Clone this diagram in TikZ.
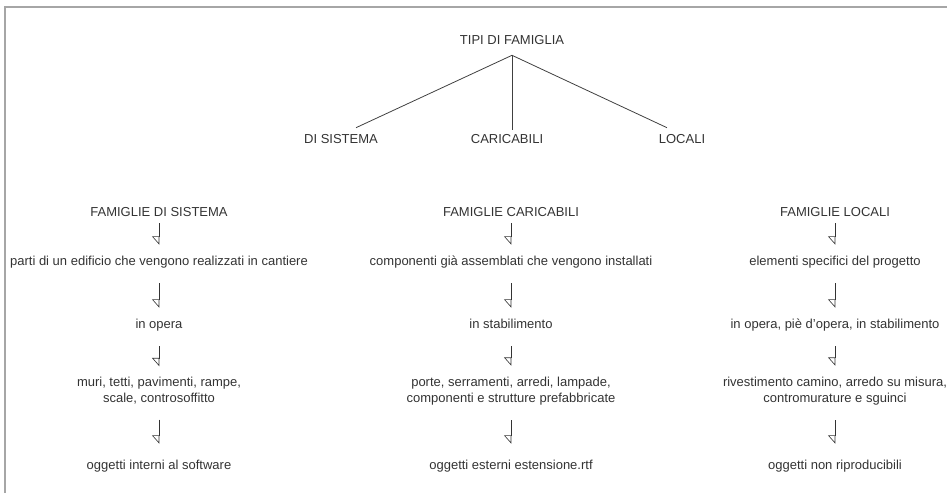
\documentclass[tikz,border=0pt]{standalone}
\usepackage{fontspec}
\setmainfont{Liberation Sans}
\usetikzlibrary{arrows.meta}

\begin{document}
\begin{tikzpicture}[
        x=1pt, y=-1pt, % координаты в пикселях, ось y вниз
        font=\fontsize{13}{16}\selectfont,
        box/.style={inner sep=0pt, text=black!80, text height=9.5pt, text depth=2.7pt}, % одна строка
        box2/.style={inner sep=0pt, text=black!80, align=center}, % две строки
        ast/.style={draw=black!75, line width=0.8pt}, % ветви дерева
        pfeil/.style={draw=black!80, line width=0.6pt,
                -{Triangle[open, harpoon, swap, length=8pt, width=14pt]},
                shorten <=15pt, shorten >=11pt},
        rahmen/.style={draw=black!35, line width=1.5pt},
    ]
    \useasboundingbox (0,0) rectangle (947,493);

    % рамка
    \draw[rahmen] (5,493) |- (947,7);

    % корень и первый уровень
    \node[box] (tipi) at (512,41) {TIPI DI FAMIGLIA};
    \node[box] (sis) at (341,140) {DI SISTEMA};
    \node[box] (car) at (507,140) {CARICABILI};
    \node[box] (loc) at (682,140) {LOCALI};

    \coordinate (apex) at ([yshift=-8pt]tipi.south);
    \draw[ast] (apex) -- ([xshift=15pt, yshift=6pt]sis.north);
    \draw[ast] (apex) -- ([xshift=5pt, yshift=4pt]car.north);
    \draw[ast] (apex) -- ([xshift=-15pt, yshift=6pt]loc.north);

    % famiglie di sistema
    \node[box] (fs1) at (159,213) {FAMIGLIE DI SISTEMA};
    \node[box] (fs2) at (159,262) {parti di un edificio che vengono realizzati in cantiere};
    \node[box] (fs3) at (159,325) {in opera};
    \node[box2] (fs4) at (159,391) {muri, tetti, pavimenti, rampe,\\ scale, controsoffitto};
    \node[box] (fs5) at (159,466) {oggetti interni al software};

    % famiglie caricabili
    \node[box] (fc1) at (511,213) {FAMIGLIE CARICABILI};
    \node[box] (fc2) at (511,262) {componenti già assemblati che vengono installati};
    \node[box] (fc3) at (511,325) {in stabilimento};
    \node[box2] (fc4) at (511,391) {porte, serramenti, arredi, lampade,\\ componenti e strutture prefabbricate};
    \node[box] (fc5) at (511,466) {oggetti esterni estensione.rtf};

    % famiglie locali
    \node[box] (fl1) at (835,213) {FAMIGLIE LOCALI};
    \node[box] (fl2) at (835,262) {elementi specifici del progetto};
    \node[box] (fl3) at (835,325) {in opera, piè d'opera, in stabilimento};
    \node[box2] (fl4) at (835,391) {rivestimento camino, arredo su misura,\\ contromurature e sguinci};
    \node[box] (fl5) at (835,466) {oggetti non riproducibili};

    % стрелки
    \draw[pfeil, shorten <=4pt] (fs1) -- (fs2);
    \draw[pfeil] (fs2) -- (fs3);
    \draw[pfeil] (fs3) -- (fs4);
    \draw[pfeil, shorten >=16pt] (fs4) -- (fs5);

    \draw[pfeil, shorten <=4pt] (fc1) -- (fc2);
    \draw[pfeil] (fc2) -- (fc3);
    \draw[pfeil] (fc3) -- (fc4);
    \draw[pfeil, shorten >=16pt] (fc4) -- (fc5);

    \draw[pfeil, shorten <=4pt] (fl1) -- (fl2);
    \draw[pfeil] (fl2) -- (fl3);
    \draw[pfeil] (fl3) -- (fl4);
    \draw[pfeil, shorten >=16pt] (fl4) -- (fl5);
\end{tikzpicture}
\end{document}
